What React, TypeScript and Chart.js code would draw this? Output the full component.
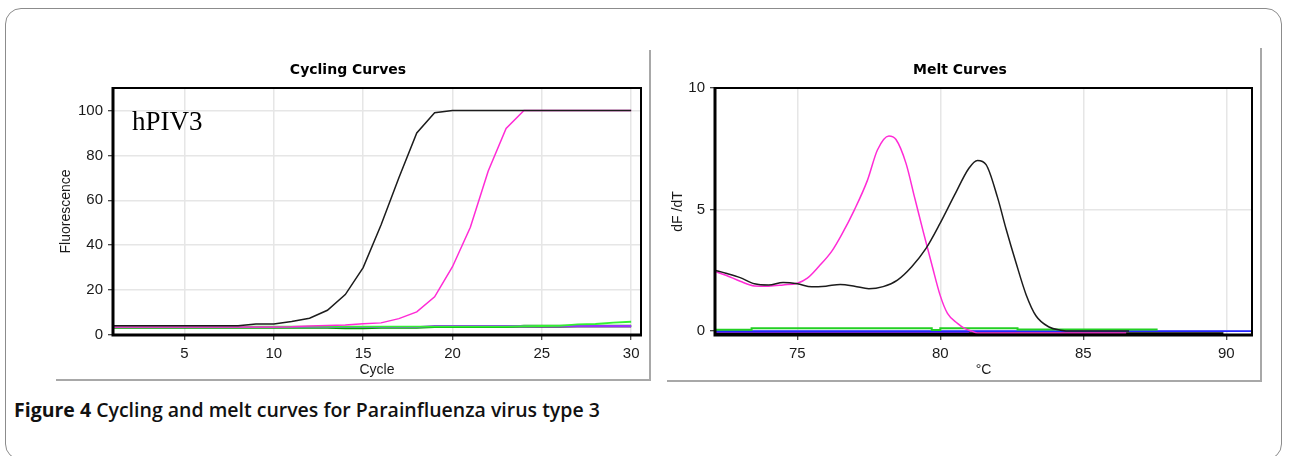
import React, { useEffect, useRef } from "react";
import { Chart, registerables } from "chart.js";

Chart.register(...registerables);

// ---------------- Cycling curves data ----------------
const cycles = [1, 2, 3, 4, 5, 6, 7, 8, 9, 10, 11, 12, 13, 14, 15, 16, 17, 18, 19, 20, 21, 22, 23, 24, 25, 26, 27, 28, 29, 30];
const cycBlack = [4.1, 4.1, 4.1, 4.1, 4.1, 4.1, 4.1, 4.1, 4.9, 4.9, 6.0, 7.5, 11, 18, 30, 49, 70, 90, 99, 100, 100, 100, 100, 100, 100, 100, 100, 100, 100, 100];
const cycPink = [3.6, 3.6, 3.6, 3.6, 3.6, 3.6, 3.6, 3.6, 3.6, 3.6, 3.7, 4.0, 4.2, 4.4, 5.0, 5.4, 7.3, 10.3, 17, 30.4, 48, 73, 92, 100, 100, 100, 100, 100, 100, 100];
const cycGreen = [3.7, 3.7, 3.7, 3.7, 3.7, 3.7, 3.7, 3.7, 3.7, 3.7, 3.7, 3.7, 3.7, 3.7, 3.7, 3.7, 3.7, 3.7, 3.7, 3.7, 3.7, 3.7, 3.7, 3.9, 4.0, 4.1, 4.7, 4.9, 5.5, 5.9];
const cycPurple = [3.5, 3.5, 3.5, 3.5, 3.5, 3.5, 3.5, 3.5, 3.5, 3.5, 3.5, 3.5, 3.5, 3.5, 3.5, 3.5, 3.5, 3.5, 4.1, 4.1, 4.1, 4.1, 4.1, 4.0, 4.0, 4.0, 4.0, 4.0, 4.0, 4.0];
const cycDarkGreen = [3.2, 3.2, 3.2, 3.2, 3.2, 3.2, 3.2, 3.2, 3.2, 3.2, 3.2, 3.2, 3.2, 3.0, 3.0, 3.2, 3.2, 3.2, 3.6, 3.6, 3.6, 3.6, 3.6, 4.1, 4.1, 4.1, 4.1, 4.1, 4.1, 4.1];
const cycDarkPurple = [3.6, 3.6, 3.6, 3.6, 3.6, 3.6, 3.6, 3.6, 3.6, 3.6, 3.6, 3.6, 3.6, 3.6, 3.6, 3.6, 3.6, 3.6, 3.6, 3.6, 3.6, 3.6, 3.6, 3.6, 3.6, 3.6, 3.7, 3.7, 3.7, 3.7];
const cycleTicks = [5, 10, 15, 20, 25, 30];
const fluorTicks = [0, 20, 40, 60, 80, 100];

// ---------------- Melt curves data ----------------
const meltBlackT = [72.12, 72.5, 73.0, 73.5, 74.0, 74.5, 75.0, 75.5, 76.0, 76.5, 77.0, 77.5, 78.0, 78.5, 79.0, 79.5, 80.0, 80.5, 81.0, 81.3, 81.6, 82.0, 82.3, 82.65, 83.0, 83.35, 83.8, 84.2, 84.6, 86.6];
const meltBlackV = [2.5, 2.38, 2.2, 1.95, 1.9, 2.0, 1.95, 1.82, 1.85, 1.92, 1.85, 1.74, 1.83, 2.1, 2.65, 3.4, 4.45, 5.6, 6.7, 7.02, 6.85, 5.5, 4.2, 2.8, 1.5, 0.62, 0.17, 0.04, 0.0, 0.0];
const meltPinkT = [72.12, 72.5, 73.0, 73.5, 74.0, 74.5, 75.0, 75.35, 75.75, 76.2, 76.55, 77.0, 77.45, 77.8, 78.2, 78.45, 78.8, 79.1, 79.4, 79.7, 80.0, 80.25, 80.6, 80.85, 81.1, 81.3, 86.5];
const meltPinkV = [2.45, 2.3, 2.05, 1.86, 1.85, 1.9, 1.97, 2.18, 2.66, 3.28, 3.97, 5.0, 6.2, 7.45, 8.03, 7.88, 6.9, 5.5, 4.1, 2.75, 1.45, 0.73, 0.32, 0.11, 0.0, -0.08, -0.08];
const meltGreenT = [72.12, 73.4, 73.4, 79.7, 79.7, 80.0, 80.0, 82.7, 82.7, 87.6];
const meltGreenV = [0.06, 0.06, 0.12, 0.12, 0.05, 0.05, 0.12, 0.12, 0.07, 0.07];
const meltBlueT = [72.12, 90.9];
const meltBlueV = [0.0, 0.0];
const meltPurpleT = [72.12, 81.0];
const meltPurpleV = [-0.03, -0.03];
const meltBaseT = [72.12, 89.9];
const meltBaseV = [-0.1, -0.1];
const tempTicks = [75, 80, 85, 90];
const dfdtTicks = [0, 5, 10];

// ---------------- helpers ----------------
const AXIS_FONT = "'Liberation Sans', Arial, sans-serif";
const TITLE_FONT = "'DejaVu Sans', Verdana, sans-serif";

function pts(xs: number[], ys: number[]) {
  return xs.map((x, i) => ({ x, y: ys[i] }));
}

function line(data: any[], color: string, width: number, smooth = false) {
  return {
    data,
    borderColor: color,
    backgroundColor: color,
    borderWidth: width,
    pointRadius: 0,
    pointHoverRadius: 0,
    fill: false,
    tension: 0,
    cubicInterpolationMode: smooth ? "monotone" : "default",
  };
}

const framePlugin = {
  id: "frame",
  afterDatasetsDraw(chart: any) {
    const { ctx, chartArea: a } = chart;
    ctx.save();
    ctx.strokeStyle = "#000";
    ctx.lineWidth = 2;
    ctx.strokeRect(a.left, a.top, a.right - a.left, a.bottom - a.top);
    ctx.lineWidth = 3;
    ctx.beginPath();
    ctx.moveTo(a.left, a.top - 1);
    ctx.lineTo(a.left, a.bottom);
    ctx.lineTo(a.right + 1, a.bottom);
    ctx.stroke();
    ctx.restore();
  },
};

function textPlugin(items: any[]) {
  return {
    id: "panelText",
    afterDraw(chart: any) {
      const ctx = chart.ctx;
      ctx.save();
      for (const it of items) {
        ctx.font = it.font;
        ctx.fillStyle = it.color || "#000";
        ctx.textAlign = it.align || "center";
        ctx.textBaseline = it.baseline || "middle";
        ctx.fillText(it.text, it.x, it.y);
      }
      ctx.restore();
    },
  };
}

function axis(opts: any) {
  const { min, max, ticks, fixedWidth, fixedHeight, title, titlePad } = opts;
  return {
    type: "linear",
    min,
    max,
    afterBuildTicks: (s: any) => {
      s.ticks = ticks.map((v: number) => ({ value: v }));
    },
    afterFit: (s: any) => {
      if (fixedWidth !== undefined) s.width = fixedWidth;
      if (fixedHeight !== undefined) s.height = fixedHeight;
    },
    grid: {
      color: "#e6e6e6",
      lineWidth: 1.5,
      drawTicks: true,
      tickLength: 5,
      tickColor: "#111",
      tickWidth: 1,
    },
    border: { display: false },
    ticks: {
      color: "#1a1a1a",
      font: { family: AXIS_FONT, size: 15 },
      padding: 5,
      maxRotation: 0,
      autoSkip: false,
    },
    title: {
      display: true,
      text: title,
      color: "#1a1a1a",
      font: { family: AXIS_FONT, size: 14 },
      padding: titlePad,
    },
  };
}

function ChartPanel(props: { left: number; top: number; width: number; height: number; build: () => any }) {
  const ref = useRef<HTMLCanvasElement | null>(null);
  useEffect(() => {
    if (!ref.current) return;
    const chart = new Chart(ref.current, props.build());
    return () => chart.destroy();
  }, []);
  return (
    <canvas
      ref={ref}
      width={props.width}
      height={props.height}
      style={{
        position: "absolute",
        left: props.left,
        top: props.top,
        width: props.width,
        height: props.height,
        display: "block",
      }}
    />
  );
}

function buildCycling() {
  return {
    type: "line",
    data: {
      datasets: [
        line(pts(cycles, cycBlack), "#1c1c1c", 1.5),
        line(pts(cycles, cycPink), "#ff2bd6", 1.5),
        line(pts(cycles, cycGreen), "#33f033", 1.8),
        line(pts(cycles, cycPurple), "#9b30ff", 1.8),
        line(pts(cycles, cycDarkGreen), "#00a000", 2),
        line(pts(cycles, cycDarkPurple), "#4b2a6a", 1.8),
      ],
    },
    options: {
      responsive: false,
      animation: false,
      devicePixelRatio: 1,
      layout: { padding: { left: 0, right: 8, top: 38, bottom: 0 } },
      plugins: { legend: { display: false }, tooltip: { enabled: false } },
      events: [],
      scales: {
        x: axis({ min: 1, max: 30.55, ticks: cycleTicks, fixedHeight: 45, title: "Cycle", titlePad: { top: 0, bottom: 1 } }),
        y: axis({ min: 0, max: 110, ticks: fluorTicks, fixedWidth: 56, title: "Fluorescence", titlePad: { top: 1, bottom: 0 } }),
      },
    },
    plugins: [
      framePlugin,
      textPlugin([
        { text: "Cycling Curves", x: 291, y: 20, font: `bold 14px ${TITLE_FONT}`, color: "#000" },
        { text: "hPIV3", x: 75, y: 80, font: `27px 'Liberation Serif', 'Times New Roman', serif`, align: "left", baseline: "alphabetic", color: "#000" },
      ]),
    ],
  };
}

function buildMelt() {
  return {
    type: "line",
    data: {
      datasets: [
        line(pts(meltBlackT, meltBlackV), "#1c1c1c", 1.5, true),
        line(pts(meltPinkT, meltPinkV), "#ff2bd6", 1.5, true),
        line(pts(meltGreenT, meltGreenV), "#22d022", 2),
        line(pts(meltBlueT, meltBlueV), "#2424ff", 1.8),
        line(pts(meltPurpleT, meltPurpleV), "#7a1fff", 1.8),
        line(pts(meltBaseT, meltBaseV), "#000000", 2.5),
      ],
    },
    options: {
      responsive: false,
      animation: false,
      devicePixelRatio: 1,
      layout: { padding: { left: 0, right: 8, top: 38, bottom: 0 } },
      plugins: { legend: { display: false }, tooltip: { enabled: false } },
      events: [],
      scales: {
        x: axis({ min: 72.12, max: 90.9, ticks: tempTicks, fixedHeight: 45, title: "°C", titlePad: { top: 0, bottom: 1 } }),
        y: axis({ min: -0.16, max: 10, ticks: dfdtTicks, fixedWidth: 55, title: "dF /dT", titlePad: { top: 10, bottom: 0 } }),
      },
    },
    plugins: [
      framePlugin,
      textPlugin([{ text: "Melt Curves", x: 300, y: 20, font: `bold 14px ${TITLE_FONT}`, color: "#000" }]),
    ],
  };
}

export default function App() {
  return (
    <div
      style={{
        position: "absolute",
        left: 0,
        top: 0,
        width: 1289,
        height: 456,
        overflow: "hidden",
        background: "#fff",
      }}
    >
      <div
        style={{
          position: "absolute",
          left: 5,
          top: 8,
          width: 1277,
          height: 452,
          border: "1px solid #8c8c8c",
          borderRadius: 16,
          boxSizing: "border-box",
        }}
      />
      {/* panel frames */}
      <div style={{ position: "absolute", left: 649, top: 50, width: 2, height: 331, background: "#a8a8a8" }} />
      <div style={{ position: "absolute", left: 56, top: 379, width: 595, height: 2, background: "#a8a8a8" }} />
      <div style={{ position: "absolute", left: 1260, top: 48, width: 2, height: 334, background: "#a8a8a8" }} />
      <div style={{ position: "absolute", left: 667, top: 380, width: 595, height: 2, background: "#a8a8a8" }} />

      <ChartPanel left={57} top={50} width={592} height={330} build={buildCycling} />
      <ChartPanel left={660} top={50} width={600} height={330} build={buildMelt} />

      <div
        style={{
          position: "absolute",
          left: 14,
          top: 397,
          whiteSpace: "nowrap",
          fontFamily: "'Open Sans', 'Noto Sans', sans-serif",
          fontSize: 19.5,
          lineHeight: "26px",
          color: "#111",
          fontWeight: 600,
        }}
      >
        <span style={{ fontWeight: 700 }}>Figure 4</span> Cycling and melt curves for Parainfluenza virus type 3
      </div>
    </div>
  );
}
